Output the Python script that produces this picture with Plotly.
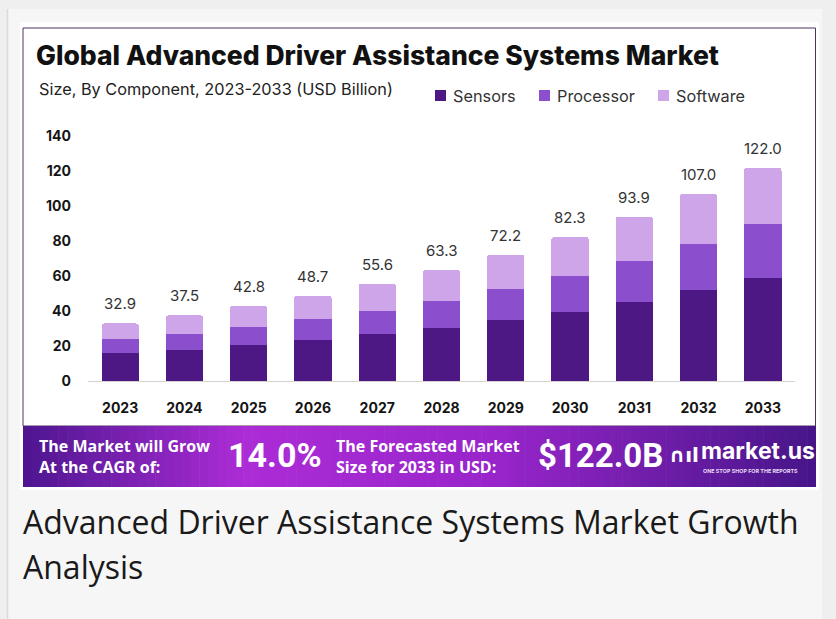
import plotly.graph_objects as go

# ---------------- data ----------------
YEARS = ["2023", "2024", "2025", "2026", "2027", "2028", "2029", "2030", "2031", "2032", "2033"]
SENSORS = [16.0, 17.7, 20.6, 23.4, 26.9, 30.3, 34.9, 39.6, 45.3, 51.8, 58.7]
PROCESSOR = [7.9, 9.2, 10.3, 12.0, 13.3, 15.6, 17.5, 20.4, 23.5, 26.7, 30.8]
SOFTWARE = [9.0, 10.6, 11.9, 13.3, 15.4, 17.4, 19.8, 22.3, 25.1, 28.5, 32.5]
TOTALS = [32.9, 37.5, 42.8, 48.7, 55.6, 63.3, 72.2, 82.3, 93.9, 107.0, 122.0]
SERIES_NAMES = ["Sensors", "Processor", "Software"]
Y_TICKS = [0, 20, 40, 60, 80, 100, 120, 140]

TITLE = "Global Advanced Driver Assistance Systems Market"
SUBTITLE = "Size, By Component, 2023-2033 (USD Billion)"
CAGR_LABEL = "The Market will Grow<br>At the CAGR of:"
CAGR_VALUE = "14.0%"
FORECAST_LABEL = "The Forecasted Market<br>Size for 2033 in USD:"
FORECAST_VALUE = "$122.0B"
CAPTION_1 = "Advanced Driver Assistance Systems Market Growth"
CAPTION_2 = "Analysis"

# ---------------- style ----------------
COLORS = ["#4d1784", "#8b4fcd", "#cfa5ea"]
W, H = 836, 619
L, R, T, B = 88, 41, 136, 238
PW, PH = W - L - R, H - T - B


def px(x):
    return (x - L) / PW


def py(y):
    return (H - B - y) / PH


fig = go.Figure()
for name, vals, col in zip(SERIES_NAMES, [SENSORS, PROCESSOR, SOFTWARE], COLORS):
    fig.add_trace(go.Bar(x=YEARS, y=vals, name=name, marker=dict(color=col, line=dict(width=0)),
                         hoverinfo="x+y+name"))

shapes = []
# page background pieces
shapes.append(dict(type="rect", xref="paper", yref="paper", x0=px(8), x1=px(822), y0=py(619), y1=py(9),
                   fillcolor="#f6f6f6", line=dict(width=0), layer="below"))
shapes.append(dict(type="line", xref="paper", yref="paper", x0=px(7.5), x1=px(7.5), y0=py(619), y1=py(9),
                   line=dict(color="#dadada", width=1.5), layer="below"))
# white card
shapes.append(dict(type="rect", xref="paper", yref="paper", x0=px(20), x1=px(819), y0=py(490), y1=py(22),
                   fillcolor="#ffffff", line=dict(width=0), layer="below"))
shapes.append(dict(type="rect", xref="paper", yref="paper", x0=px(23), x1=px(815.5), y0=py(426), y1=py(28),
                   fillcolor="rgba(0,0,0,0)", line=dict(color="#4e3360", width=1), layer="below"))

# banner gradient (decorative)
stops = [(0.0, (0x4e, 0x16, 0x90)), (0.28, (0xac, 0x2c, 0xd6)), (0.6, (0x98, 0x25, 0xca)),
         (1.0, (0x46, 0x15, 0x88))]


def grad(t):
    for (t0, c0), (t1, c1) in zip(stops[:-1], stops[1:]):
        if t0 <= t <= t1:
            f = (t - t0) / (t1 - t0)
            return "rgb(%d,%d,%d)" % tuple(round(a + (b - a) * f) for a, b in zip(c0, c1))
    return "rgb(%d,%d,%d)" % stops[-1][1]


bx0, bx1, by0, by1 = 23, 816, 426, 487
N = 90
for i in range(N):
    xa = bx0 + (bx1 - bx0) * i / N
    xb = bx0 + (bx1 - bx0) * (i + 1) / N + 0.6
    shapes.append(dict(type="rect", xref="paper", yref="paper", x0=px(xa), x1=px(min(xb, bx1)),
                       y0=py(by1), y1=py(by0), fillcolor=grad((i + 0.5) / N), line=dict(width=0),
                       layer="below"))

# custom legend squares
legend_sq_x = [435, 539, 658]
for xs, col in zip(legend_sq_x, COLORS):
    shapes.append(dict(type="rect", xref="paper", yref="paper", x0=px(xs), x1=px(xs + 11),
                       y0=py(101), y1=py(90), fillcolor=col, line=dict(width=0)))

ann = []
# totals above bars (category index positions)
for i, tot in enumerate(TOTALS):
    ann.append(dict(x=i, y=tot, xref="x", yref="y", text=f"{tot:.1f}", showarrow=False,
                    xanchor="center", yanchor="bottom", yshift=8,
                    font=dict(family="Inter", size=15, color="#333333")))

# title + subtitle
ann.append(dict(x=px(34), y=py(55), xref="paper", yref="paper", text=TITLE, showarrow=False,
                xanchor="left", yanchor="middle",
                font=dict(family="Inter", size=26.5, weight=800, color="#111111")))
ann.append(dict(x=px(37), y=py(89), xref="paper", yref="paper", text=SUBTITLE, showarrow=False,
                xanchor="left", yanchor="middle",
                font=dict(family="Inter", size=16.3, color="#222222")))
# legend labels
legend_tx = [451, 555, 674]
for xt, name in zip(legend_tx, SERIES_NAMES):
    ann.append(dict(x=px(xt), y=py(95.5), xref="paper", yref="paper", text=name, showarrow=False,
                    xanchor="left", yanchor="middle",
                    font=dict(family="Inter", size=16.3, color="#333333")))

# banner texts
ban_font_small = dict(family="Open Sans", size=16, weight="bold", color="#ffffff")
ban_font_big = dict(family="Roboto", size=34, weight="bold", color="#ffffff")
ann.append(dict(x=px(37), y=py(456), xref="paper", yref="paper", text=CAGR_LABEL, showarrow=False,
                xanchor="left", yanchor="middle", align="left", font=ban_font_small))
ann.append(dict(x=px(226), y=py(455), xref="paper", yref="paper", text=CAGR_VALUE, showarrow=False,
                xanchor="left", yanchor="middle", font=ban_font_big))
ann.append(dict(x=px(334), y=py(456), xref="paper", yref="paper", text=FORECAST_LABEL, showarrow=False,
                xanchor="left", yanchor="middle", align="left", font=ban_font_small))
ann.append(dict(x=px(536), y=py(455), xref="paper", yref="paper", text=FORECAST_VALUE, showarrow=False,
                xanchor="left", yanchor="middle", font=dict(ban_font_big, size=33)))
ann.append(dict(x=px(667), y=py(455), xref="paper", yref="paper", text="∩ıl", showarrow=False,
                xanchor="left", yanchor="middle",
                font=dict(family="DejaVu Sans", size=20, weight="bold", color="#ffffff")))
ann.append(dict(x=px(699), y=py(451), xref="paper", yref="paper", text="market.us", showarrow=False,
                xanchor="left", yanchor="middle",
                font=dict(family="Inter", size=23, weight="bold", color="#ffffff")))
ann.append(dict(x=px(701), y=py(471), xref="paper", yref="paper", text="ONE STOP SHOP FOR THE REPORTS",
                showarrow=False, xanchor="left", yanchor="middle",
                font=dict(family="Inter", size=5.4, weight="bold", color="#e8d8f5")))

# caption below
ann.append(dict(x=px(21), y=py(521), xref="paper", yref="paper", text=CAPTION_1, showarrow=False,
                xanchor="left", yanchor="middle",
                font=dict(family="Open Sans", size=32, color="#1a1a1a")))
ann.append(dict(x=px(21), y=py(566), xref="paper", yref="paper", text=CAPTION_2, showarrow=False,
                xanchor="left", yanchor="middle",
                font=dict(family="Open Sans", size=32, color="#1a1a1a")))

fig.update_layout(
    width=W, height=H,
    margin=dict(l=L, r=R, t=T, b=B, autoexpand=False),
    paper_bgcolor="#efefef", plot_bgcolor="rgba(0,0,0,0)",
    barmode="stack", bargap=0.42, barcornerradius=3,
    showlegend=False,
    shapes=shapes, annotations=ann,
    xaxis=dict(type="category", categoryorder="array", categoryarray=YEARS,
               range=[-0.5, len(YEARS) - 0.5], showgrid=False, zeroline=False,
               showline=True, linecolor="#d2d2d2", linewidth=1, ticks="",
               ticklabelstandoff=14,
               tickfont=dict(family="Inter", size=14, weight="bold", color="#151515")),
    yaxis=dict(range=[0, 140], tickvals=Y_TICKS, showgrid=False, zeroline=False, showline=False,
               ticks="", ticklabelstandoff=16,
               tickfont=dict(family="Inter", size=14, weight="bold", color="#151515")),
)

fig.write_html("out.html", config={"displayModeBar": False},
               post_script="document.body.style.margin='0px';")
